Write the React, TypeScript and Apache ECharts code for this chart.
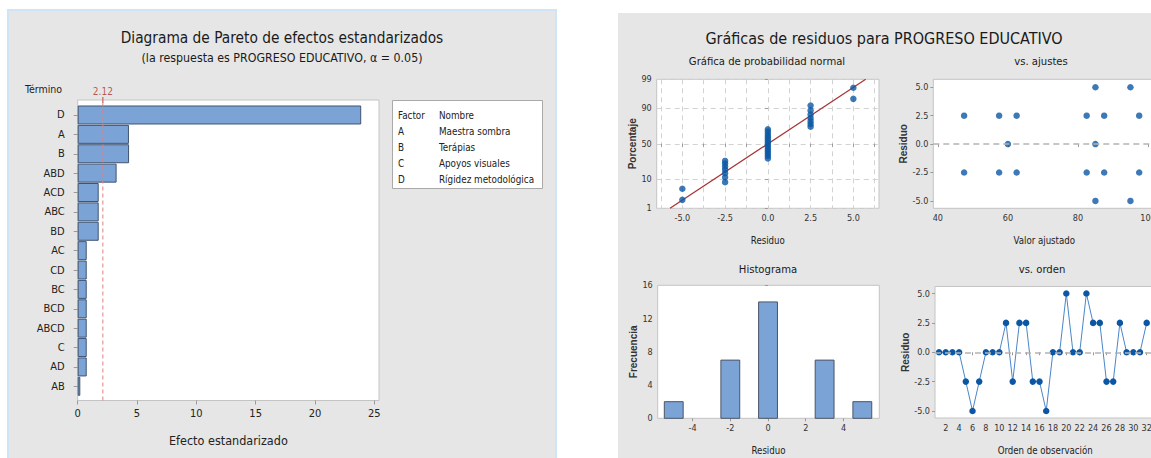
import React, { useEffect, useRef } from 'react';
import * as echarts from 'echarts';

// ---------- data ----------
const paretoTerms = ['D', 'A', 'B', 'ABD', 'ACD', 'ABC', 'BD', 'AC', 'CD', 'BC', 'BCD', 'ABCD', 'C', 'AD', 'AB'];
const paretoEffects = [23.9, 4.32, 4.33, 3.28, 1.77, 1.77, 1.77, 0.76, 0.76, 0.76, 0.76, 0.76, 0.76, 0.76, 0.22];
const criticalEffect = 2.12;
const paretoTicks = [0, 5, 10, 15, 20, 25];
const factorCodes = ['A', 'B', 'C', 'D'];
const factorNames = ['Maestra sombra', 'Terápias', 'Apoyos visuales', 'Rígidez metodológica'];

const residualsByOrder = [0, 0, 0, 0, -2.5, -5, -2.5, 0, 0, 0, 2.5, -2.5, 2.5, 2.5, -2.5, -2.5, -5, 0, 0, 5, 0, 0, 5, 2.5, 2.5, -2.5, -2.5, 2.5, 0, 0, 0, 2.5];
const orderTicks = [2, 4, 6, 8, 10, 12, 14, 16, 18, 20, 22, 24, 26, 28, 30, 32];

const fittedValues = [47.5, 47.5, 57.5, 57.5, 62.5, 62.5, 60, 82.5, 82.5, 85, 85, 85, 87.5, 87.5, 95, 95, 97.5, 97.5];
const fittedResiduals = [2.5, -2.5, 2.5, -2.5, 2.5, -2.5, 0, 2.5, -2.5, 5, 0, -5, 2.5, -2.5, 5, -5, 2.5, -2.5];
const fitTicks = [40, 60, 80, 100];

const histMidpoints = [-5, -2, 0, 3, 5];
const histCounts = [2, 7, 14, 7, 2];
const histBinWidth = 1;
const histXTicks = [-4, -2, 0, 2, 4];
const histYTicks = [0, 4, 8, 12, 16];

const residualTicks = [-5, -2.5, 0, 2.5, 5];
const probGridX = [-6.25, -5, -3.75, -2.5, -1.25, 0, 1.25, 2.5, 3.75, 5, 6.25];
const probPercents = [1, 10, 50, 90, 99];

// ---------- helpers ----------
function invNorm(p: number): number {
  const a = [-3.969683028665376e1, 2.209460984245205e2, -2.759285104469687e2, 1.38357751867269e2, -3.066479806614716e1, 2.506628277459239];
  const b = [-5.447609879822406e1, 1.615858368580409e2, -1.556989798598866e2, 6.680131188771972e1, -1.328068155288572e1];
  const c = [-7.784894002430293e-3, -3.223964580411365e-1, -2.400758277161838, -2.549732539343734, 4.374664141464968, 2.938163982698783];
  const d = [7.784695709041462e-3, 3.224671290700398e-1, 2.445134137142996, 3.754408661907416];
  const pl = 0.02425;
  let q: number, r: number;
  if (p < pl) {
    q = Math.sqrt(-2 * Math.log(p));
    return (((((c[0] * q + c[1]) * q + c[2]) * q + c[3]) * q + c[4]) * q + c[5]) / ((((d[0] * q + d[1]) * q + d[2]) * q + d[3]) * q + 1);
  }
  if (p > 1 - pl) {
    q = Math.sqrt(-2 * Math.log(1 - p));
    return -(((((c[0] * q + c[1]) * q + c[2]) * q + c[3]) * q + c[4]) * q + c[5]) / ((((d[0] * q + d[1]) * q + d[2]) * q + d[3]) * q + 1);
  }
  q = p - 0.5;
  r = q * q;
  return (((((a[0] * r + a[1]) * r + a[2]) * r + a[3]) * r + a[4]) * r + a[5]) * q / (((((b[0] * r + b[1]) * r + b[2]) * r + b[3]) * r + b[4]) * r + 1);
}

const FONT = "'DejaVu Sans Condensed', 'Noto Sans', sans-serif";
const BOLDFONT = "'Liberation Sans', Arial, sans-serif";

export default function App() {
  const ref = useRef<HTMLDivElement>(null);

  useEffect(() => {
    if (!ref.current) return;
    const chart = echarts.init(ref.current, undefined, { renderer: 'svg' });

    const n = residualsByOrder.length;
    const sorted = [...residualsByOrder].sort((x, y) => x - y);
    const probPoints = sorted.map((v, i) => [v, invNorm((i + 1 - 0.3) / (n + 0.4))]);
    const mean = residualsByOrder.reduce((s, v) => s + v, 0) / n;
    const sd = Math.sqrt(residualsByOrder.reduce((s, v) => s + (v - mean) ** 2, 0) / (n - 1));
    const probZ = probPercents.map((p) => invNorm(p / 100));
    const zMin = probZ[0];
    const zMax = probZ[probZ.length - 1];
    const fitLine = [[mean + sd * zMin, zMin], [mean + sd * zMax, zMax]];

    const frame = { show: true, backgroundColor: '#ffffff', borderColor: '#c4c4c4', borderWidth: 1, outerBoundsMode: 'none', containLabel: false };
    const tick = { show: true, length: 3, lineStyle: { color: '#9a9a9a' } };
    const small = { fontSize: 9, color: '#333', fontFamily: FONT, margin: 5 };
    const yName = { fontSize: 10, color: '#333', fontFamily: BOLDFONT, fontWeight: 'bold' as const };
    const xName = { fontSize: 9.6, color: '#222', fontFamily: FONT };
    const sub = { fontSize: 11.2, fontWeight: 'normal' as const, color: '#1a1a1a', fontFamily: FONT };
    const blue = '#0b57a4';
    const fmt1 = (v: number) => v.toFixed(1);

    const option: any = {
      animation: false,
      backgroundColor: '#ffffff',
      textStyle: { fontFamily: FONT },
      title: [
        {
          text: 'Diagrama de Pareto de efectos estandarizados',
          subtext: '(la respuesta es PROGRESO EDUCATIVO, α = 0.05)',
          left: 282, top: 30, textAlign: 'center', itemGap: 7, padding: 0,
          textStyle: { fontSize: 15.3, fontWeight: 'normal', color: '#1a1a1a', fontFamily: FONT },
          subtextStyle: { fontSize: 12.3, color: '#1a1a1a', fontFamily: FONT },
        },
        {
          text: 'Gráficas de residuos para PROGRESO EDUCATIVO',
          left: 884, top: 30.5, textAlign: 'center', padding: 0,
          textStyle: { fontSize: 16, fontWeight: 'normal', color: '#1a1a1a', fontFamily: FONT },
        },
        { text: 'Gráfica de probabilidad normal', left: 767, top: 55.5, textAlign: 'center', padding: 0, textStyle: sub },
        { text: 'vs. ajustes', left: 1041, top: 55.5, textAlign: 'center', padding: 0, textStyle: sub },
        { text: 'Histograma', left: 768, top: 264, textAlign: 'center', padding: 0, textStyle: sub },
        { text: 'vs. orden', left: 1042, top: 264, textAlign: 'center', padding: 0, textStyle: sub },
      ],
      graphic: [
        { type: 'rect', z: -100, shape: { x: 8, y: 10, width: 548, height: 470 }, style: { fill: '#e6e6e6', stroke: '#cfe4f7', lineWidth: 2 } },
        { type: 'rect', z: -100, shape: { x: 618, y: 13, width: 560, height: 470 }, style: { fill: '#e6e6e6' } },
        { type: 'text', x: 25, y: 89, style: { text: 'Término', fill: '#222', font: `10.5px ${FONT}`, textAlign: 'left', textVerticalAlign: 'middle', verticalAlign: 'middle' } },
        { type: 'rect', z: 10, shape: { x: 392.5, y: 100.5, width: 150, height: 88 }, style: { fill: '#ffffff', stroke: '#a9a9a9', lineWidth: 1 } },
        { type: 'text', z: 11, x: 398, y: 115, style: { text: 'Factor', fill: '#222', font: `9.8px ${FONT}`, textVerticalAlign: 'middle', verticalAlign: 'middle' } },
        { type: 'text', z: 11, x: 439, y: 115, style: { text: 'Nombre', fill: '#222', font: `9.8px ${FONT}`, textVerticalAlign: 'middle', verticalAlign: 'middle' } },
        ...factorCodes.flatMap((c, i) => [
          { type: 'text', z: 11, x: 398, y: 131 + i * 16, style: { text: c, fill: '#222', font: `9.8px ${FONT}`, textVerticalAlign: 'middle', verticalAlign: 'middle' } },
          { type: 'text', z: 11, x: 439, y: 131 + i * 16, style: { text: factorNames[i], fill: '#222', font: `9.8px ${FONT}`, textVerticalAlign: 'middle', verticalAlign: 'middle' } },
        ]),
      ],
      grid: [
        { ...frame, left: 77.7, top: 100, width: 301.3, height: 300.5 },
        { show: false, left: 77.7, top: 105.3, width: 301.3, height: 290.7, outerBoundsMode: 'none', containLabel: false },
        { ...frame, left: 656.7, top: 79.3, width: 222.3, height: 129 },
        { ...frame, left: 933.3, top: 79.3, width: 222, height: 129 },
        { ...frame, left: 657.7, top: 285.3, width: 221.6, height: 133 },
        { ...frame, left: 935, top: 286.5, width: 220.4, height: 131.5 },
      ],
      xAxis: [
        {
          gridIndex: 0, type: 'value', min: 0, max: 25.4,
          axisLine: { show: false }, splitLine: { show: false },
          axisTick: { show: true, length: 4, lineStyle: { color: '#9a9a9a' }, customValues: paretoTicks },
          axisLabel: { fontSize: 11, color: '#222', margin: 7, customValues: paretoTicks },
          name: 'Efecto estandarizado', nameLocation: 'middle', nameGap: 33,
          nameTextStyle: { fontSize: 12.5, color: '#222', fontFamily: FONT },
        },
        { gridIndex: 1, type: 'value', min: 0, max: 25.4, show: false },
        {
          gridIndex: 2, type: 'value', min: -6.5, max: 6.5,
          axisLine: { show: false },
          axisTick: { ...tick, customValues: probGridX },
          axisLabel: { ...small, customValues: residualTicks, formatter: fmt1 },
          splitLine: { show: true, lineStyle: { color: '#d2d2d2', type: [5, 4], width: 1 } },
          name: 'Residuo', nameLocation: 'middle', nameGap: 27, nameTextStyle: xName,
        },
        {
          gridIndex: 3, type: 'value', min: 38.7, max: 102.1,
          axisLine: { show: false }, splitLine: { show: false },
          axisTick: { ...tick, customValues: fitTicks },
          axisLabel: { ...small, customValues: fitTicks },
          name: 'Valor ajustado', nameLocation: 'middle', nameGap: 27, nameTextStyle: xName,
        },
        {
          gridIndex: 4, type: 'value', min: -5.85, max: 5.9,
          axisLine: { show: false }, splitLine: { show: false },
          axisTick: { ...tick, customValues: histXTicks },
          axisLabel: { ...small, customValues: histXTicks },
          name: 'Residuo', nameLocation: 'middle', nameGap: 27, nameTextStyle: xName,
        },
        {
          gridIndex: 5, type: 'value', min: 0.4, max: 33.3,
          axisLine: { show: false }, splitLine: { show: false },
          axisTick: { ...tick, customValues: orderTicks },
          axisLabel: { ...small, customValues: orderTicks },
          name: 'Orden de observación', nameLocation: 'middle', nameGap: 27, nameTextStyle: xName,
        },
      ],
      yAxis: [
        { gridIndex: 0, type: 'value', min: 0, max: 1, show: false },
        {
          gridIndex: 1, type: 'category', data: paretoTerms, inverse: true,
          axisLine: { show: false },
          axisTick: { show: true, alignWithLabel: true, length: 4, lineStyle: { color: '#9a9a9a' } },
          axisLabel: { fontSize: 11, color: '#222', margin: 13 },
        },
        {
          gridIndex: 2, type: 'value', min: zMin, max: zMax,
          axisLine: { show: false },
          axisTick: { ...tick, customValues: probZ },
          axisLabel: {
            ...small, customValues: probZ,
            formatter: (v: number) => {
              const i = probZ.findIndex((z) => Math.abs(z - v) < 1e-3);
              return i >= 0 ? String(probPercents[i]) : '';
            },
          },
          splitLine: { show: true, lineStyle: { color: '#d2d2d2', type: [5, 4], width: 1 } },
          name: 'Porcentaje', nameLocation: 'middle', nameGap: 16, nameTextStyle: yName,
        },
        {
          gridIndex: 3, type: 'value', min: -5.65, max: 5.7,
          axisLine: { show: false }, splitLine: { show: false },
          axisTick: { ...tick, customValues: residualTicks },
          axisLabel: { ...small, customValues: residualTicks, formatter: fmt1 },
          name: 'Residuo', nameLocation: 'middle', nameGap: 17, nameTextStyle: yName,
        },
        {
          gridIndex: 4, type: 'value', min: 0, max: 16,
          axisLine: { show: false }, splitLine: { show: false },
          axisTick: { ...tick, customValues: histYTicks },
          axisLabel: { ...small, customValues: histYTicks },
          name: 'Frecuencia', nameLocation: 'middle', nameGap: 15, nameTextStyle: yName,
        },
        {
          gridIndex: 5, type: 'value', min: -5.6, max: 5.6,
          axisLine: { show: false }, splitLine: { show: false },
          axisTick: { ...tick, customValues: residualTicks },
          axisLabel: { ...small, customValues: residualTicks, formatter: fmt1 },
          name: 'Residuo', nameLocation: 'middle', nameGap: 19, nameTextStyle: yName,
        },
      ],
      series: [
        {
          type: 'bar', xAxisIndex: 1, yAxisIndex: 1, data: paretoEffects,
          barCategoryGap: '2%',
          itemStyle: { color: '#7ba3d6', borderColor: '#3f5470', borderWidth: 1 },
        },
        {
          type: 'line', xAxisIndex: 0, yAxisIndex: 0,
          data: [[criticalEffect, 0], [criticalEffect, 1]],
          symbol: 'none', lineStyle: { color: '#e08080', type: [4, 3], width: 1 }, z: 5,
        },
        {
          type: 'scatter', xAxisIndex: 0, yAxisIndex: 0, clip: false,
          data: [[criticalEffect, 1]], symbol: 'rect', symbolSize: [1.2, 6],
          itemStyle: { color: '#c04040' }, z: 6,
          label: { show: true, position: 'top', distance: 1, formatter: String(criticalEffect), color: '#b03030', fontSize: 10, fontFamily: FONT },
        },
        {
          type: 'line', xAxisIndex: 2, yAxisIndex: 2, data: fitLine, symbol: 'none',
          lineStyle: { color: '#a83232', width: 1.2 }, z: 3,
        },
        {
          type: 'scatter', xAxisIndex: 2, yAxisIndex: 2, data: probPoints,
          symbol: 'circle', symbolSize: 6.5, itemStyle: { color: blue }, z: 4,
        },
        {
          type: 'scatter', xAxisIndex: 3, yAxisIndex: 3,
          data: fittedValues.map((f, i) => [f, fittedResiduals[i]]),
          symbol: 'circle', symbolSize: 6.5, itemStyle: { color: blue }, z: 4,
          markLine: {
            silent: true, symbol: 'none', label: { show: false },
            lineStyle: { color: '#b4b4b4', type: [6, 4], width: 1.5 },
            data: [{ yAxis: 0 }],
          },
        },
        {
          type: 'custom', xAxisIndex: 4, yAxisIndex: 4,
          data: histMidpoints.map((m, i) => [m, histCounts[i]]),
          encode: { x: 0, y: 1 },
          renderItem: (params: any, api: any) => {
            const x = api.value(0);
            const c = api.value(1);
            const p0 = api.coord([x - histBinWidth / 2, c]);
            const p1 = api.coord([x + histBinWidth / 2, 0]);
            return {
              type: 'rect',
              shape: { x: p0[0], y: p0[1], width: p1[0] - p0[0], height: p1[1] - p0[1] },
              style: { fill: '#7ba3d6', stroke: '#4a5566', lineWidth: 1 },
            };
          },
        },
        {
          type: 'line', xAxisIndex: 5, yAxisIndex: 5,
          data: residualsByOrder.map((r, i) => [i + 1, r]),
          symbol: 'circle', symbolSize: 6.5, showSymbol: true,
          itemStyle: { color: blue }, lineStyle: { color: '#4a86c8', width: 1 },
          markLine: {
            silent: true, symbol: 'none', label: { show: false },
            lineStyle: { color: '#b4b4b4', type: [6, 4], width: 1.5 },
            data: [{ yAxis: 0 }],
          },
        },
      ],
    };

    chart.setOption(option);
    return () => chart.dispose();
  }, []);

  return <div ref={ref} style={{ position: 'absolute', left: 0, top: 0, width: 1151, height: 458 }} />;
}
